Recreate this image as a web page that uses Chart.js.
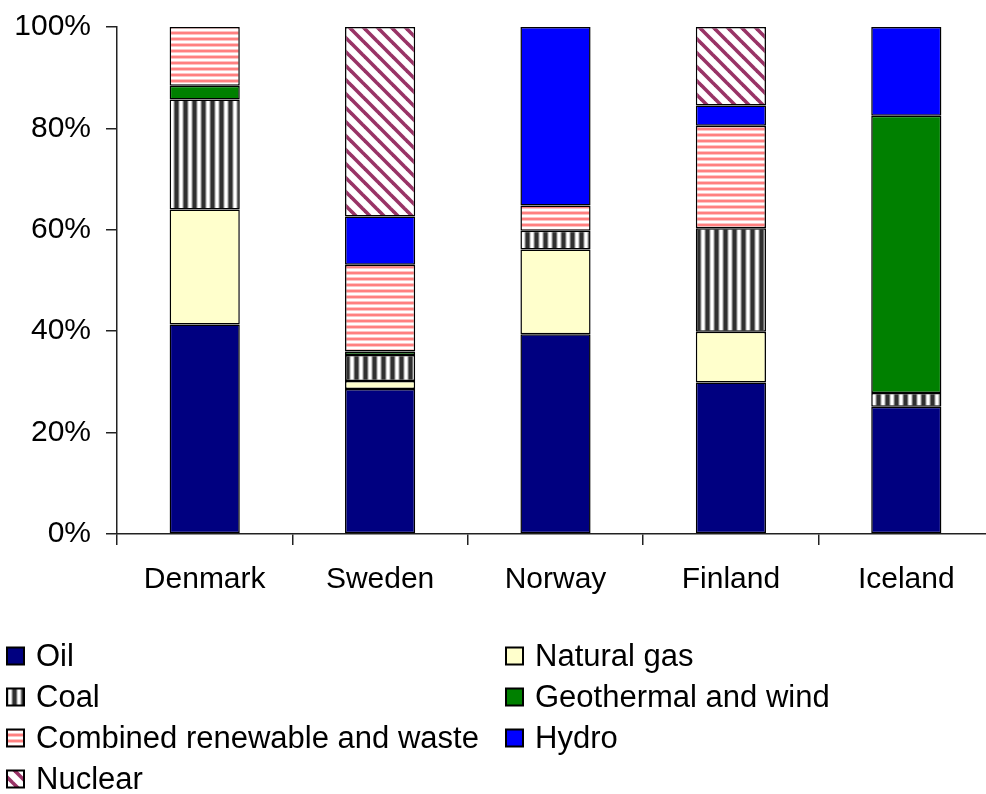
<!DOCTYPE html>
<html>
<head>
<meta charset="utf-8">
<script src="https://cdn.jsdelivr.net/npm/chart.js@4/dist/chart.umd.min.js"></script>
<style>
  html, body { margin: 0; padding: 0; background: #fff; overflow: hidden; }
  #wrap { position: relative; width: 1000px; height: 794px; }
</style>
</head>
<body>
<div id="wrap"><canvas id="chart" width="1000" height="794"></canvas></div>
<script>
// Share of total primary energy supply by source, per Nordic country (%)
const countries = ['Denmark', 'Sweden', 'Norway', 'Finland', 'Iceland'];
const oil        = [41.3, 28.6, 39.4, 29.9, 25.1];
const naturalGas = [22.7,  1.6, 16.7, 10.0,  0.0];
const coal       = [21.7,  5.1,  3.7, 20.4,  2.7];
const geoWind    = [ 2.7,  0.7,  0.0,  0.0, 54.7];
const renewWaste = [11.6, 17.1,  5.0, 20.2,  0.0];
const hydro      = [ 0.0,  9.5, 35.2,  4.0, 17.5];
const nuclear    = [ 0.0, 37.4,  0.0, 15.5,  0.0];
const yTicks = [0, 20, 40, 60, 80, 100];

const FONT = "'Liberation Sans', Arial, sans-serif";

// Fill patterns
function makeTile(w, h, draw) {
  const c = document.createElement('canvas');
  c.width = w; c.height = h;
  const g = c.getContext('2d');
  g.fillStyle = '#fff';
  g.fillRect(0, 0, w, h);
  draw(g, w, h);
  return document.createElement('canvas').getContext('2d').createPattern(c, 'repeat');
}
const coalPattern = makeTile(9, 9, (g, w, h) => {
  const cols = ['#fff', '#fff', '#d0d0d0', '#707070', '#303030', '#303030', '#303030', '#707070', '#d0d0d0'];
  cols.forEach((c, i) => { g.fillStyle = c; g.fillRect(i, 0, 1, h); });
});
const renewPattern = makeTile(6, 6, (g, w, h) => {
  const rows = ['#fff', '#ffc4c4', '#ff8080', '#ff8080', '#ffc4c4', '#fff'];
  rows.forEach((c, i) => { g.fillStyle = c; g.fillRect(0, i, w, 1); });
});
const nuclearPattern = makeTile(14, 14, (g, w, h) => {
  g.strokeStyle = '#993366';
  g.lineWidth = 3.6;
  for (let k = -1; k <= 1; k++) {
    g.beginPath();
    g.moveTo(k * w - 2, -2);
    g.lineTo(k * w + w + 2, h + 2);
    g.stroke();
  }
});

function series(label, data, fill) {
  return {
    label, data,
    backgroundColor: fill,
    borderColor: '#000',
    borderWidth: 1.5,
    borderSkipped: false,
    categoryPercentage: 1.0,
    barPercentage: 0.4
  };
}

// Two-column legend drawn beneath the plot
const legendBlock = {
  id: 'legendBlock',
  afterDraw(chart) {
    const ctx = chart.ctx;
    const ds = chart.data.datasets;
    const colX = [7, 506];
    const rowY = [656, 697, 738, 779];
    ctx.save();
    ctx.font = '31px ' + FONT;
    ctx.textBaseline = 'middle';
    ds.forEach((d, i) => {
      const x = colX[i % 2];
      const y = rowY[Math.floor(i / 2)];
      ctx.fillStyle = d.backgroundColor;
      ctx.fillRect(x, y - 8.5, 17, 17);
      ctx.strokeStyle = '#000';
      ctx.lineWidth = 2;
      ctx.strokeRect(x, y - 8.5, 17, 17);
      ctx.fillStyle = '#000';
      ctx.fillText(d.label, x + 29, y + 1);
    });
    ctx.restore();
  }
};

new Chart(document.getElementById('chart'), {
  type: 'bar',
  data: {
    labels: countries,
    datasets: [
      series('Oil', oil, '#000080'),
      series('Natural gas', naturalGas, '#ffffcc'),
      series('Coal', coal, coalPattern),
      series('Geothermal and wind', geoWind, '#008000'),
      series('Combined renewable and waste', renewWaste, renewPattern),
      series('Hydro', hydro, '#0000ff'),
      series('Nuclear', nuclear, nuclearPattern)
    ]
  },
  options: {
    responsive: false,
    animation: false,
    devicePixelRatio: 1,
    layout: { padding: { left: 0, right: 6, top: 27, bottom: 200 } },
    plugins: { legend: { display: false }, tooltip: { enabled: false } },
    scales: {
      x: {
        stacked: true,
        offset: true,
        grid: { offset: true, drawOnChartArea: false, drawTicks: true, tickLength: 11, color: '#222', lineWidth: 1.5 },
        border: { display: true, color: '#222', width: 1.5 },
        ticks: { color: '#000', font: { family: FONT, size: 30 }, padding: 17, maxRotation: 0 },
        afterFit(scale) { scale.height = 60; }
      },
      y: {
        stacked: true,
        min: 0,
        max: 100,
        afterBuildTicks(scale) { scale.ticks = yTicks.map(v => ({ value: v })); },
        grid: { drawOnChartArea: false, drawTicks: true, tickLength: 11, color: '#222', lineWidth: 1.5 },
        border: { display: true, color: '#222', width: 1.5 },
        ticks: { color: '#000', font: { family: FONT, size: 30 }, padding: 15, callback: v => v + '%' },
        afterFit(scale) {
          scale.width = 117;
          scale.paddingTop = 0;
          scale.paddingBottom = 0;
        }
      }
    }
  },
  plugins: [legendBlock]
});
</script>
</body>
</html>
